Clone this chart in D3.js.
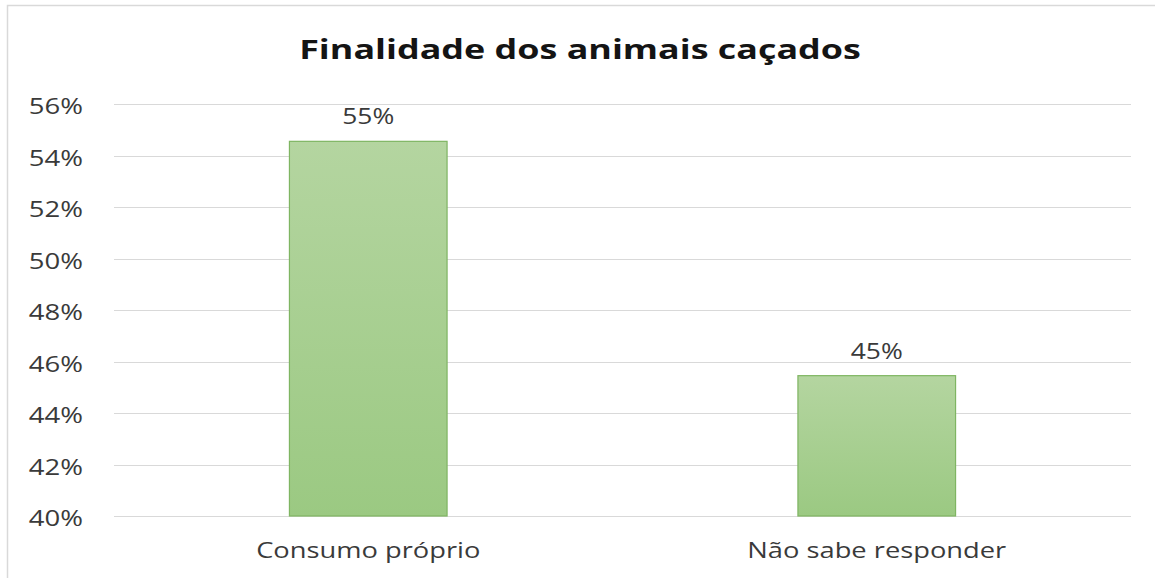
<!DOCTYPE html>
<html>
<head>
<meta charset="utf-8">
<script src="https://cdn.jsdelivr.net/npm/d3@7"></script>
<style>
  html, body { margin: 0; padding: 0; background: #ffffff; }
  svg { display: block; }
</style>
</head>
<body>
<svg id="chart" width="1155" height="578"></svg>
<script>
// Chart data
const chartTitle = "Finalidade dos animais caçados";
const categories = ["Consumo próprio", "Não sabe responder"];
const shares = [0.5455, 0.4545];
const yTicks = [0.40, 0.42, 0.44, 0.46, 0.48, 0.50, 0.52, 0.54, 0.56];

const W = 1155, H = 578;
const margin = { top: 104, right: 24, bottom: 62, left: 114 };
const svg = d3.select("#chart");
const font = "'Open Sans', 'Noto Sans', sans-serif";
const textColor = "#3a3a3a";

// Widen glyphs horizontally by a given factor
function widen(sel, factor) {
  sel.each(function () {
    const len = this.getComputedTextLength();
    d3.select(this)
      .attr("textLength", len * factor)
      .attr("lengthAdjust", "spacingAndGlyphs");
  });
}

// Chart frame
svg.append("path")
  .attr("d", `M7.5,${H} V5.5 H${W}`)
  .attr("fill", "none")
  .attr("stroke", "#d9d9d9")
  .attr("stroke-width", 1.5);

const x = d3.scaleBand()
  .domain(categories)
  .range([margin.left, W - margin.right])
  .paddingInner(0.69)
  .paddingOuter(0.345);

const y = d3.scaleLinear()
  .domain([0.40, 0.56])
  .range([H - margin.bottom, margin.top]);

// Gridlines
svg.append("g")
  .selectAll("line")
  .data(yTicks)
  .join("line")
  .attr("x1", margin.left)
  .attr("x2", W - margin.right)
  .attr("y1", d => Math.round(y(d)) + 0.5)
  .attr("y2", d => Math.round(y(d)) + 0.5)
  .attr("stroke", "#d9d9d9")
  .attr("stroke-width", 1);

// Y axis labels
const yAxis = d3.axisLeft(y)
  .tickValues(yTicks)
  .tickFormat(d3.format(".0%"))
  .tickSize(0)
  .tickPadding(0);
svg.append("g")
  .attr("transform", `translate(${margin.left - 31},0)`)
  .call(yAxis)
  .call(g => g.select(".domain").remove())
  .call(g => g.selectAll("text")
    .attr("font-family", font)
    .attr("font-size", 22)
    .attr("dy", "0.45em")
    .attr("fill", textColor)
    .call(widen, 1.25));

// Bar gradient
const defs = svg.append("defs");
const grad = defs.append("linearGradient")
  .attr("id", "barFill")
  .attr("x1", 0).attr("y1", 0).attr("x2", 0).attr("y2", 1);
grad.append("stop").attr("offset", "0%").attr("stop-color", "#b4d5a0");
grad.append("stop").attr("offset", "100%").attr("stop-color", "#9bc982");

// Bars
svg.append("g")
  .selectAll("rect")
  .data(categories)
  .join("rect")
  .attr("x", d => x(d))
  .attr("width", x.bandwidth())
  .attr("y", (d, i) => y(shares[i]))
  .attr("height", (d, i) => y(0.40) - y(shares[i]))
  .attr("fill", "url(#barFill)")
  .attr("stroke", "#7fb562")
  .attr("stroke-width", 1.2);

// Value labels
svg.append("g")
  .selectAll("text")
  .data(categories)
  .join("text")
  .attr("x", d => x(d) + x.bandwidth() / 2)
  .attr("y", (d, i) => y(shares[i]) - 17)
  .attr("text-anchor", "middle")
  .attr("font-family", font)
  .attr("font-size", 22)
  .attr("fill", textColor)
  .text((d, i) => d3.format(".0%")(shares[i]))
  .call(widen, 1.2);

// X axis labels
const xAxis = d3.axisBottom(x).tickSize(0).tickPadding(0);
svg.append("g")
  .attr("transform", `translate(0,${H - margin.bottom})`)
  .call(xAxis)
  .call(g => g.select(".domain").remove())
  .call(g => g.selectAll("text")
    .attr("y", 42)
    .attr("dy", 0)
    .attr("font-family", font)
    .attr("font-size", 22)
    .attr("fill", textColor)
    .call(widen, 1.24));

// Title
svg.append("text")
  .attr("x", 580)
  .attr("y", 59)
  .attr("text-anchor", "middle")
  .attr("font-family", font)
  .attr("font-size", 26)
  .attr("font-weight", "bold")
  .attr("fill", "#141414")
  .text(chartTitle)
  .call(widen, 1.38);
</script>
</body>
</html>
